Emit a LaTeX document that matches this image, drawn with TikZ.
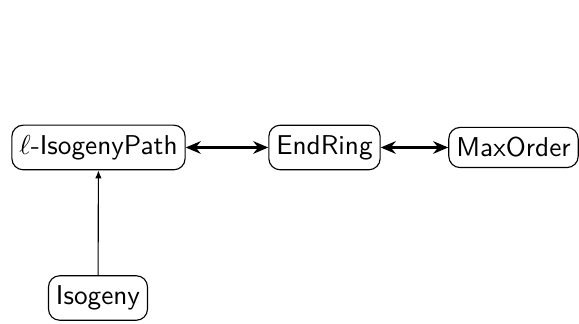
\documentclass[tikz,border=0pt]{standalone}
\usepackage{tikz}
\usetikzlibrary{arrows.meta}

\tikzset{
	typebox/.style={draw, rounded corners=4.5pt, font=\fontsize{10.9}{13}\selectfont\sffamily, inner xsep=3pt, inner ysep=4pt, line width=0.45pt},
	bothways/.style={{Stealth[length=6pt,width=5pt]}-{Stealth[length=6pt,width=5pt]}, line width=1.1pt},
	oneway/.style={-{Latex[length=3.2pt,width=2.6pt]}, line width=0.45pt}
}

\begin{document}
\begin{tikzpicture}[x=0.4pt,y=0.4pt,yscale=-1,xscale=1]
		\useasboundingbox (0,0) rectangle (579,324);
		
		% top row
		\node [typebox] (path) at (98.5,147.5) {$\ell$-IsogenyPath};
		\node [typebox] (endring) at (324.5,147.5) {EndRing};
		\node [typebox] (maxord) at (513.5,147.5) {MaxOrder};
		
		% bottom
		\node [typebox] (isog) at (98,298) {Isogeny};
		
		\draw [bothways] (path) -- (endring) ;
		\draw [bothways] (endring) -- (maxord) ;
		\draw [oneway] (isog) -- (path) ;
		
\end{tikzpicture}
\end{document}
